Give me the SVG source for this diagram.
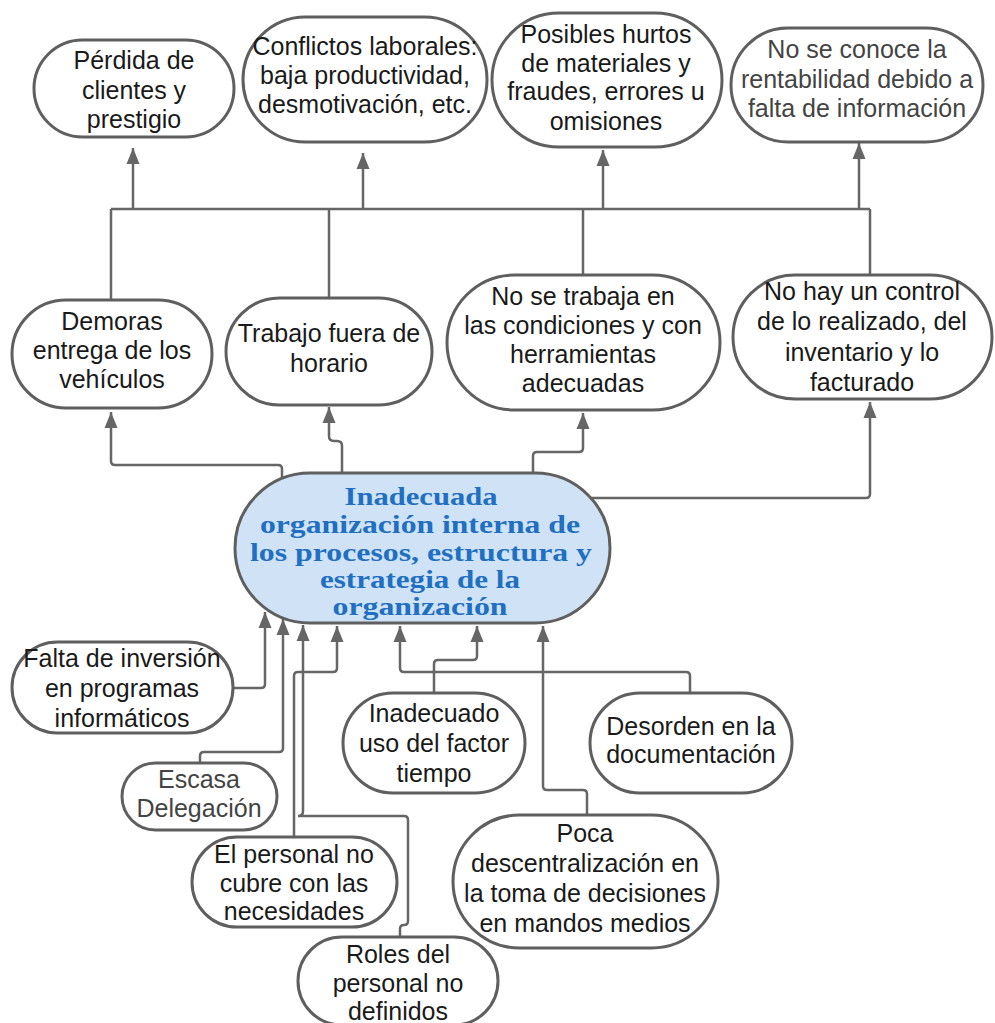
<svg xmlns="http://www.w3.org/2000/svg" width="995" height="1023" viewBox="0 0 995 1023">
<style>
.box{fill:#fff;stroke:#5f5f5f;stroke-width:3}
.main{fill:#cfe2f6;stroke:#5f5f5f;stroke-width:3}
.t{font-family:"Liberation Sans",Arial,sans-serif;font-size:25px;fill:#1a1a1a;text-anchor:middle}
.g{fill:#444}
.m{font-family:"Liberation Serif","Times New Roman",serif;font-size:26px;font-weight:bold;fill:#1f6fc2;text-anchor:middle}
.c{fill:none;stroke:#666;stroke-width:2.5}
.a{fill:none;stroke:#666;stroke-width:2.5;marker-end:url(#arr)}
</style>
<defs>
<marker id="arr" markerUnits="userSpaceOnUse" markerWidth="16" markerHeight="14" refX="16" refY="7" orient="auto">
<path d="M0,0.5 L16,7 L0,13.5 z" fill="#666"/>
</marker>
</defs>
<rect width="995" height="1023" fill="#fff"/>
<g id="connectors">
<path class="c" d="M111,209 H870"/>
<path class="a" d="M133,209 V148"/>
<path class="a" d="M363,209 V153"/>
<path class="a" d="M603,209 V150"/>
<path class="a" d="M859,209 V143"/>
<path class="c" d="M111,209 V300"/>
<path class="c" d="M329,209 V298"/>
<path class="c" d="M583,209 V275"/>
<path class="c" d="M870,209 V275"/>
<path class="a" d="M282,477 V469 Q282,465 278,465 H115 Q111,465 111,461 V412"/>
<path class="a" d="M342,473 V446 Q342,441 337,441 H334 Q329,441 329,436 V407"/>
<path class="a" d="M533,473 V456 Q533,452 537,452 H579 Q583,452 583,448 V413"/>
<path class="a" d="M591,498 H866 Q870,498 870,494 V402"/>
<path class="a" d="M233,688 H261 Q265,688 265,684 V612"/>
<path class="a" d="M200,763 V756 Q200,752 204,752 H279 Q283,752 283,748 V619"/>
<path class="a" d="M400,937 V929 Q400,925 404,925 Q408,925 408,921 V820 Q408,816 404,816 H298 Q303,816 303,811 V625"/>
<path class="a" d="M294,837 V676 Q294,672 298,672 H333 Q337,672 337,668 V626"/>
<path class="a" d="M690,693 V676 Q690,672 686,672 H404 Q400,672 400,668 V626"/>
<path class="a" d="M434,693 V664 Q434,660 438,660 H473 Q477,660 477,656 V626"/>
<path class="a" d="M587,815 V794 Q587,790 583,790 H547 Q543,790 543,786 V626"/>
</g>
<g id="n-perdida">
<rect class="box" x="34" y="40" width="200" height="97" rx="48.5"/>
<text class="t" x="134" y="69">Pérdida de</text>
<text class="t" x="134" y="99">clientes y</text>
<text class="t" x="134" y="128">prestigio</text>
</g>
<g id="n-conflictos">
<rect class="box" x="243" y="17" width="244" height="125" rx="62.5"/>
<text class="t" x="365" y="55">Conflictos laborales:</text>
<text class="t" x="365" y="84">baja productividad,</text>
<text class="t" x="365" y="113">desmotivación, etc.</text>
</g>
<g id="n-hurtos">
<rect class="box" x="492" y="13" width="230" height="134" rx="67"/>
<text class="t" x="606" y="43">Posibles hurtos</text>
<text class="t" x="606" y="72">de materiales y</text>
<text class="t" x="606" y="100">fraudes, errores u</text>
<text class="t" x="606" y="130">omisiones</text>
</g>
<g id="n-rentabilidad">
<rect class="box" x="731" y="28" width="252" height="114" rx="57"/>
<text class="t g" x="857" y="58" font-size="24">No se conoce la</text>
<text class="t g" x="857" y="88" font-size="24">rentabilidad debido a</text>
<text class="t g" x="857" y="117" font-size="24">falta de información</text>
</g>
<g id="n-demoras">
<rect class="box" x="12" y="300" width="200" height="108" rx="54"/>
<text class="t" x="112" y="330">Demoras</text>
<text class="t" x="112" y="359">entrega de los</text>
<text class="t" x="112" y="388">vehículos</text>
</g>
<g id="n-trabajo">
<rect class="box" x="226" y="298" width="206" height="107" rx="53.5"/>
<text class="t" x="329" y="342">Trabajo fuera de</text>
<text class="t" x="329" y="372">horario</text>
</g>
<g id="n-condiciones">
<rect class="box" x="447" y="275" width="273" height="135" rx="67.5"/>
<text class="t" x="583" y="305">No se trabaja en</text>
<text class="t" x="583" y="334">las condiciones y con</text>
<text class="t" x="583" y="363">herramientas</text>
<text class="t" x="583" y="392">adecuadas</text>
</g>
<g id="n-control">
<rect class="box" x="733" y="275" width="259" height="124" rx="62"/>
<text class="t" x="862" y="300">No hay un control</text>
<text class="t" x="862" y="330">de lo realizado, del</text>
<text class="t" x="862" y="361">inventario y lo</text>
<text class="t" x="862" y="391">facturado</text>
</g>
<g id="n-main">
<rect class="main" x="235" y="473" width="375" height="150" rx="75"/>
<text class="m" x="421" y="505" textLength="153" lengthAdjust="spacingAndGlyphs">Inadecuada</text>
<text class="m" x="420" y="533" textLength="320" lengthAdjust="spacingAndGlyphs">organización interna de</text>
<text class="m" x="421" y="561" textLength="342" lengthAdjust="spacingAndGlyphs">los procesos, estructura y</text>
<text class="m" x="420" y="588" textLength="200" lengthAdjust="spacingAndGlyphs">estrategia de la</text>
<text class="m" x="420" y="615" textLength="175" lengthAdjust="spacingAndGlyphs">organización</text>
</g>
<g id="n-falta">
<rect class="box" x="12" y="642" width="221" height="91" rx="45.5"/>
<text class="t" x="122" y="667">Falta de inversión</text>
<text class="t" x="122" y="697">en programas</text>
<text class="t" x="122" y="727">informáticos</text>
</g>
<g id="n-escasa">
<rect class="box" x="122" y="763" width="155" height="67" rx="33.5"/>
<text class="t g" x="199" y="788">Escasa</text>
<text class="t g" x="199" y="817">Delegación</text>
</g>
<g id="n-personal">
<rect class="box" x="192" y="837" width="205" height="90" rx="45"/>
<text class="t" x="294" y="863">El personal no</text>
<text class="t" x="294" y="892">cubre con las</text>
<text class="t" x="294" y="920">necesidades</text>
</g>
<g id="n-roles">
<rect class="box" x="298" y="937" width="200" height="88" rx="44"/>
<text class="t" x="398" y="963">Roles del</text>
<text class="t" x="398" y="992">personal no</text>
<text class="t" x="398" y="1020">definidos</text>
</g>
<g id="n-tiempo">
<rect class="box" x="343" y="693" width="182" height="100" rx="50"/>
<text class="t" x="434" y="722">Inadecuado</text>
<text class="t" x="434" y="752">uso del factor</text>
<text class="t" x="434" y="782">tiempo</text>
</g>
<g id="n-desorden">
<rect class="box" x="590" y="693" width="202" height="100" rx="50"/>
<text class="t" x="691" y="735">Desorden en la</text>
<text class="t" x="691" y="763">documentación</text>
</g>
<g id="n-poca">
<rect class="box" x="453" y="815" width="265" height="133" rx="66.5"/>
<text class="t" x="585" y="842">Poca</text>
<text class="t" x="585" y="872">descentralización en</text>
<text class="t" x="585" y="902">la toma de decisiones</text>
<text class="t" x="585" y="932">en mandos medios</text>
</g>
</svg>
